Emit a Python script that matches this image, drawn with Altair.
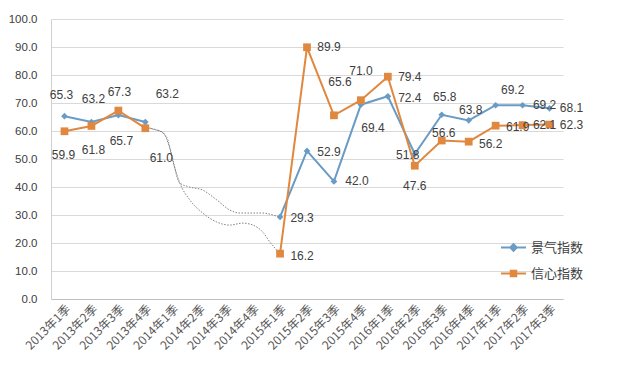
import altair as alt
import pandas as pd

quarters = ["2013年1季", "2013年2季", "2013年3季", "2013年4季",
            "2014年1季", "2014年2季", "2014年3季", "2014年4季",
            "2015年1季", "2015年2季", "2015年3季", "2015年4季",
            "2016年1季", "2016年2季", "2016年3季", "2016年4季",
            "2017年1季", "2017年2季", "2017年3季"]
jingqi = [65.3, 63.2, 65.7, 63.2, None, None, None, None,
          29.3, 52.9, 42.0, 69.4, 72.4, 51.8, 65.8, 63.8, 69.2, 69.2, 68.1]
xinxin = [59.9, 61.8, 67.3, 61.0, None, None, None, None,
          16.2, 89.9, 65.6, 71.0, 79.4, 47.6, 56.6, 56.2, 61.9, 62.1, 62.3]
series_names = ["景气指数", "信心指数"]

# label offsets (pixels) for data labels
jq_dx = [-3, 2, 3, 22, 0, 0, 0, 0, 22, 22, 23, 12, 22, -7, 3, 2, 17, 22, 22]
jq_dy = [-21, -23, 26, -28, 0, 0, 0, 0, 1, 1, 0, 23, 2, 1, -18, -10, -15, 0, 0]
xx_dx = [-1, 2, 1, 16, 0, 0, 0, 0, 22, 22, 6, 0, 22, 0, 2, 22, 22, 22, 22]
xx_dy = [24, 24, -19, 30, 0, 0, 0, 0, 2, 0, -33, -29, 0, 20, -8, 2, 1, 0, 0]

# hand-drawn dotted connectors over 2014
dot_upper_x = [3.05, 3.27, 3.64, 3.90, 4.28, 4.65, 5.13, 5.65, 6.13, 6.51, 7.36, 7.88, 8.0]
dot_upper_y = [61.5, 60.7, 59.6, 54.3, 41.4, 40.0, 38.9, 35.4, 31.8, 30.7, 30.7, 29.6, 29.3]
dot_lower_x = [3.10, 3.42, 3.79, 4.01, 4.28, 4.65, 5.13, 5.65, 6.13, 6.62, 6.99, 7.36, 7.62, 8.0]
dot_lower_y = [61.0, 60.4, 57.9, 49.6, 41.4, 35.4, 30.7, 27.5, 26.4, 27.1, 26.4, 23.9, 20.4, 16.2]

BLUE = "#6a9bc5"
ORANGE = "#e0883f"
colors = [BLUE, ORANGE]
legend_paths = ["M-1,0H1M0,-0.26L0.26,0L0,0.26L-0.26,0Z",
                "M-1,0H1M-0.22,-0.22H0.22V0.22H-0.22Z"]


def series_df(vals, dxs, dys, name):
    rows = []
    for i, v in enumerate(vals):
        if v is None:
            continue
        rows.append({"idx": i, "v": v, "dx": dxs[i], "dy": dys[i],
                     "seg": 0 if i < 4 else 1, "series": name,
                     "lab": f"{v:.1f}"})
    return pd.DataFrame(rows)


jq = series_df(jingqi, jq_dx, jq_dy, series_names[0])
xx = series_df(xinxin, xx_dx, xx_dy, series_names[1])
both = pd.concat([jq, xx], ignore_index=True)

dots = pd.concat([
    pd.DataFrame({"idx": dot_upper_x, "v": dot_upper_y, "c": "u"}),
    pd.DataFrame({"idx": dot_lower_x, "v": dot_lower_y, "c": "l"}),
], ignore_index=True)

label_expr = "[" + ",".join(f"'{q}'" for q in quarters) + "][datum.value]"

xenc = alt.X("idx:Q", scale=alt.Scale(domain=[-0.5, 18.5], nice=False, zero=False),
             axis=alt.Axis(values=list(range(19)), labelExpr=label_expr, labelAngle=-45,
                           labelAlign="right", labelBaseline="top", grid=False, ticks=False,
                           labelPadding=4, title=None, domainColor="#bfbfbf",
                           labelFont="Noto Sans CJK SC", labelFontSize=12,
                           labelColor="#595959", labelOverlap=False))
yenc = alt.Y("v:Q", scale=alt.Scale(domain=[0, 100], nice=False),
             axis=alt.Axis(values=list(range(0, 101, 10)), format=".1f", grid=True,
                           gridColor="#d9d9d9", ticks=False, labelPadding=14, title=None,
                           domainColor="#d0d0d0", labelFont="Liberation Sans",
                           labelFontSize=11.5, labelColor="#404040"))

dotted = alt.Chart(dots).mark_line(color="#808080", strokeWidth=1, strokeDash=[1.5, 1.5],
                                   interpolate="monotone").encode(x=xenc, y=yenc, detail="c:N")


def lines_points(df, color, shape, size):
    ln = alt.Chart(df).mark_line(color=color, strokeWidth=2).encode(x=xenc, y=yenc, detail="seg:N")
    pt = alt.Chart(df).mark_point(filled=True, color=color, shape=shape, size=size, opacity=1).encode(x=xenc, y=yenc)
    return ln, pt


jl, jp = lines_points(jq, BLUE, "diamond", 45)
xl, xp = lines_points(xx, ORANGE, "square", 60)

# one text layer per distinct label offset
label_layers = []
for (dx, dy), grp in both.groupby(["dx", "dy"]):
    label_layers.append(
        alt.Chart(grp).mark_text(font="Liberation Sans", fontSize=12, color="#404040",
                                 align="center", baseline="middle", dx=int(dx), dy=int(dy)).encode(
            x=xenc, y=yenc, text="lab:N"))

leg_props = dict(title=None, orient="none", legendX=449, legendY=215, symbolSize=625,
                 symbolStrokeWidth=2, labelFont="Noto Sans CJK SC", labelFontSize=13,
                 labelColor="#404040", rowPadding=5, labelOffset=4)
legend_layer = alt.Chart(both).transform_filter("false").mark_point(filled=True, opacity=1).encode(
    x=xenc, y=yenc,
    color=alt.Color("series:N", scale=alt.Scale(domain=series_names, range=colors),
                    legend=alt.Legend(**leg_props)),
    stroke=alt.Stroke("series:N", scale=alt.Scale(domain=series_names, range=colors),
                      legend=alt.Legend(**leg_props)),
    shape=alt.Shape("series:N", scale=alt.Scale(domain=series_names, range=legend_paths),
                    legend=alt.Legend(**leg_props)),
)

chart = alt.layer(dotted, jl, xl, jp, xp, *label_layers, legend_layer).properties(
    width=512, height=280,
    autosize=alt.AutoSizeParams(type="none"),
    padding={"left": 43, "top": 11, "right": 69, "bottom": 58},
    background="white",
).configure_view(stroke=None)

chart.save("out.html", embed_options={"renderer": "svg", "actions": False})
